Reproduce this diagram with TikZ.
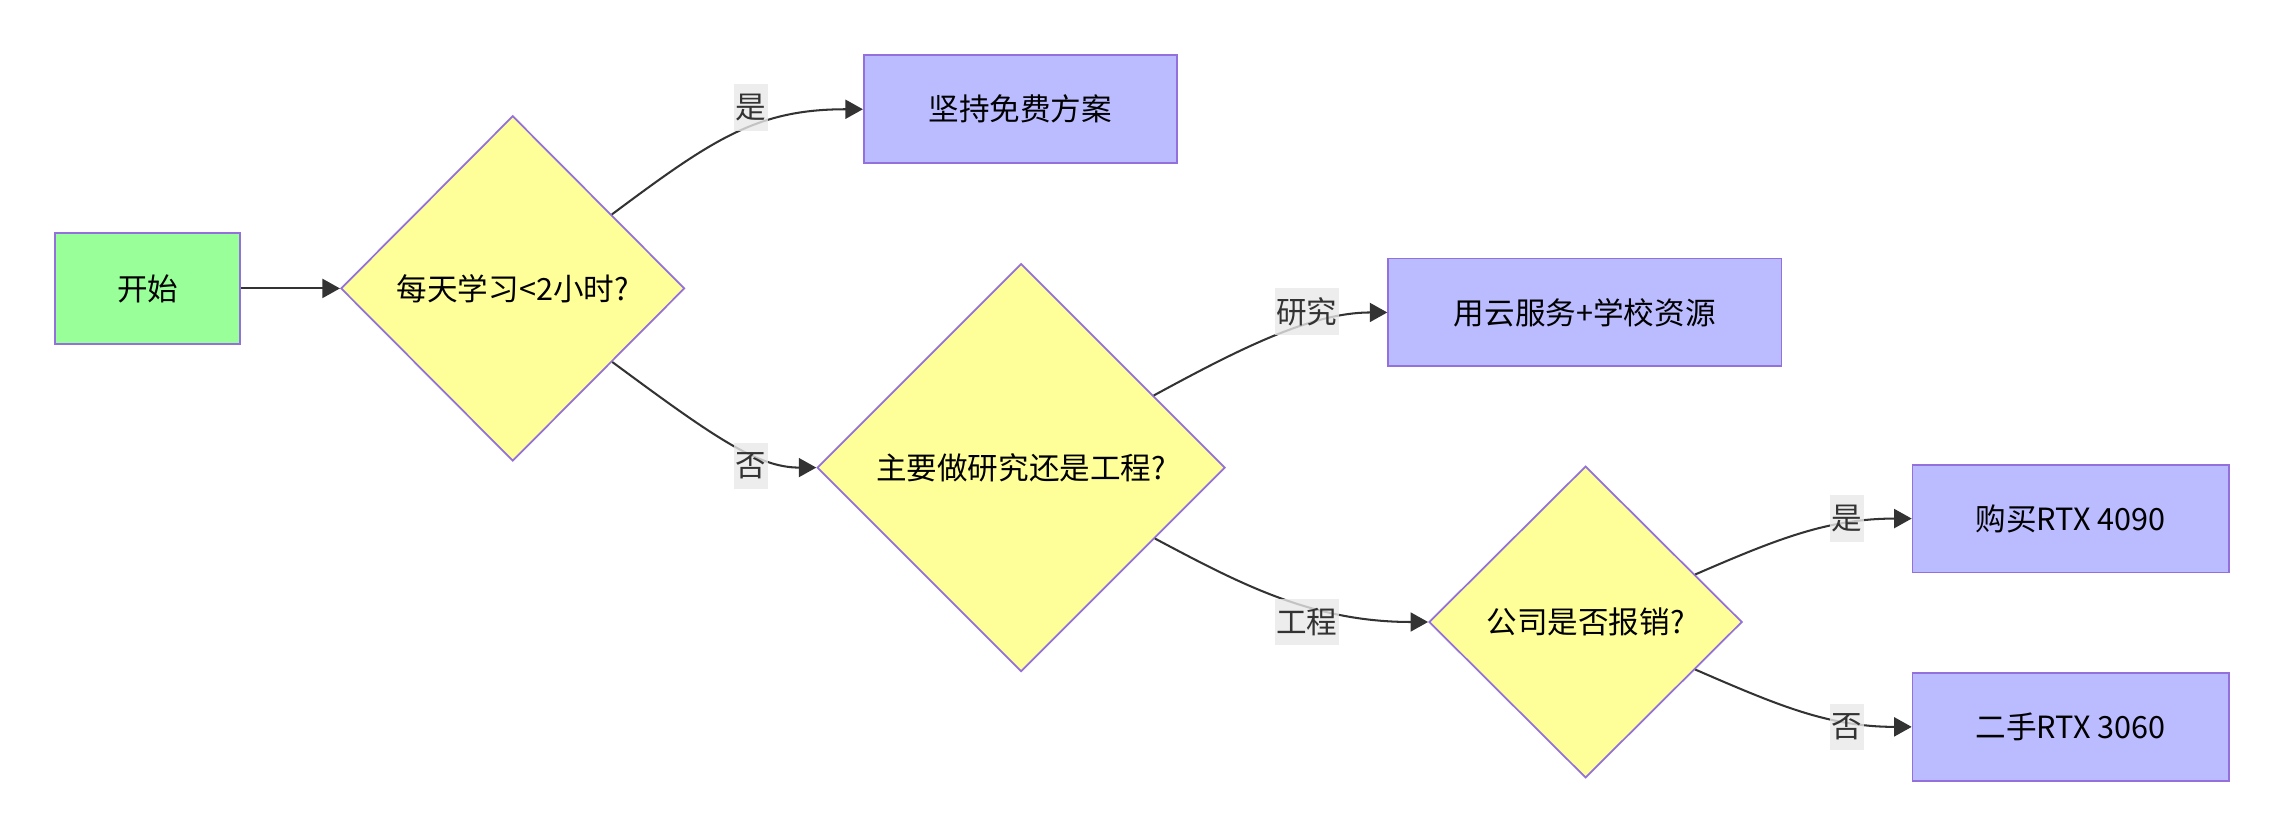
\documentclass[tikz,border=0pt]{standalone}
\usepackage{fontspec}
\setmainfont{Noto Sans CJK SC}
\usetikzlibrary{shapes.geometric,arrows.meta}
\definecolor{nodestroke}{HTML}{9370DB}
\definecolor{greenfill}{HTML}{99FF99}
\definecolor{yellowfill}{HTML}{FFFF99}
\definecolor{bluefill}{HTML}{BBBBFF}
\definecolor{edgecol}{HTML}{333333}
\definecolor{labelbg}{HTML}{E8E8E8}
\begin{document}
\begin{tikzpicture}[x=0.5pt,y=-0.5pt,
  base/.style={draw=nodestroke, line width=0.6pt, text=black, font=\fontsize{10.5pt}{13pt}\selectfont, inner sep=0pt},
  startbox/.style={base, rectangle, fill=greenfill, minimum width=63.5pt, minimum height=38pt},
  actbox/.style={base, rectangle, fill=bluefill, minimum height=37pt},
  decision/.style={base, diamond, fill=yellowfill, aspect=1},
  elabel/.style={fill=labelbg, fill opacity=0.8, text opacity=1, text=edgecol, font=\fontsize{10.5pt}{13pt}\selectfont, inner xsep=0.5pt, inner ysep=0pt, minimum height=16pt},
  flow/.style={draw=edgecol, line width=0.7pt, -{Triangle[length=6pt,width=6.5pt]}}
]
\useasboundingbox (0,0) rectangle (1568,574);

% nodes
\node[startbox] (start) at (101.5,198) {开始};
\node[decision, minimum width=118pt, minimum height=118.5pt] (d1) at (352,198) {每天学习<2小时?};
\node[actbox, minimum width=107.5pt] (free) at (700.5,75) {坚持免费方案};
\node[decision, minimum width=140pt, minimum height=140pt] (d2) at (701,321) {主要做研究还是工程?};
\node[actbox, minimum width=135pt] (cloud) at (1088,214.5) {用云服务+学校资源};
\node[decision, minimum width=107.5pt, minimum height=107pt] (d3) at (1088.5,427) {公司是否报销?};
\node[actbox, minimum width=108.5pt] (buy) at (1421.5,356) {购买RTX 4090};
\node[actbox, minimum width=108.5pt] (used) at (1421.5,499) {二手RTX 3060};

% connectors
\draw[flow] (start) -- (d1);
\draw[flow] (d1) .. controls (490,95) and (520,75) .. (free);
\draw[flow] (d1) .. controls (490,300) and (520,321) .. (d2);
\draw[flow] (d2) .. controls (850,240) and (900,214.5) .. (cloud);
\draw[flow] (d2) .. controls (850,400) and (900,427) .. (d3);
\draw[flow] (d3) .. controls (1220,370) and (1255,356) .. (buy);
\draw[flow] (d3) .. controls (1220,484) and (1255,499) .. (used);

% edge labels
\node[elabel] (l1) at (515.5,74) {是};
\node[elabel] (l2) at (515.5,320) {否};
\node[elabel] (l3) at (897,214) {研究};
\node[elabel] (l4) at (897,427) {工程};
\node[elabel] (l5) at (1268,356) {是};
\node[elabel] (l6) at (1268,499) {否};
\end{tikzpicture}
\end{document}
